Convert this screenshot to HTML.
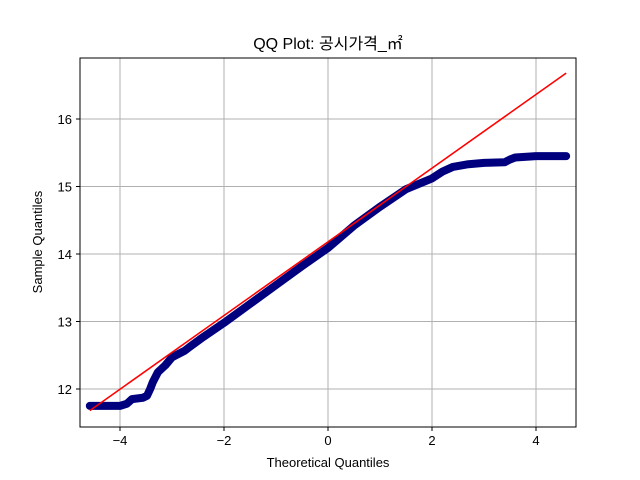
<!DOCTYPE html>
<html><head><meta charset="utf-8"><style>
body{margin:0;background:#fff}
svg{display:block;font-family:"Liberation Sans","Noto Sans CJK KR",sans-serif}
</style></head><body>
<svg id="c" width="640" height="480" viewBox="0 0 640 480"></svg>
<script>
const theoretical=[-4.58,-4.3,-4.0,-3.87,-3.77,-3.56,-3.48,-3.42,-3.37,-3.27,-3.13,-3.0,-2.75,-2.65,-2.4,-2.0,-1.5,-1.0,-0.5,0,0.5,1.0,1.5,2.0,2.2,2.4,2.7,3.0,3.4,3.5,3.6,4.0,4.3,4.58];
const sample=[11.75,11.75,11.75,11.78,11.85,11.87,11.9,12.0,12.1,12.25,12.35,12.47,12.57,12.63,12.77,12.98,13.26,13.54,13.82,14.09,14.42,14.7,14.96,15.12,15.22,15.29,15.33,15.35,15.36,15.4,15.43,15.45,15.45,15.45];
const xTicks=[-4,-2,0,2,4];
const yTicks=[12,13,14,15,16];
const lineX=[-4.58,4.58];
const lineY=[11.68,16.68];
const NS="http://www.w3.org/2000/svg";
const svg=document.getElementById('c');
const L=80,R=576,T=58,B=427;
const X=v=>328+v*52;
const Y=v=>389-(v-12)*67.5;
function mk(t,a,p){const e=document.createElementNS(NS,t);for(const k in a)e.setAttribute(k,a[k]);(p||svg).appendChild(e);return e;}
xTicks.forEach(t=>{
 const g=mk('line',{x1:X(t),x2:X(t),y1:T,y2:B,stroke:'#b0b0b0','stroke-width':1});
 
 
 mk('line',{x1:X(t),x2:X(t),y1:B,y2:B+4,stroke:'#000'});
 const tx=mk('text',{x:X(t),y:B+18,'text-anchor':'middle','font-size':13});
 tx.textContent=(t<0?'\u2212':'')+Math.abs(t);
 
 
});
yTicks.forEach(t=>{
 const g=mk('line',{x1:L,x2:R,y1:Y(t),y2:Y(t),stroke:'#b0b0b0','stroke-width':1});
 
 
 mk('line',{x1:L-4,x2:L,y1:Y(t),y2:Y(t),stroke:'#000'});
 const tx=mk('text',{x:L-8,y:Y(t)+5,'text-anchor':'end','font-size':13});
 tx.textContent=t;
 
 
});
const pts=theoretical.map((v,i)=>X(v)+','+Y(sample[i])).join(' ');
const pl=mk('polyline',{points:pts,fill:'none',stroke:'#00007f','stroke-width':8,'stroke-linejoin':'round','stroke-linecap':'round'});


theoretical.forEach((v,i)=>{
 const c=mk('circle',{cx:X(v),cy:Y(sample[i]),r:3.6,fill:'#00007f'});
 
 
});
const rl=mk('line',{x1:X(lineX[0]),y1:Y(lineY[0]),x2:X(lineX[1]),y2:Y(lineY[1]),stroke:'#f00','stroke-width':1.6});


const fr=mk('rect',{x:L,y:T,width:R-L,height:B-T,fill:'none',stroke:'#000','stroke-width':1});


const ti=mk('text',{x:328,y:49,'text-anchor':'middle','font-size':16});
ti.textContent='QQ Plot: 공시가격_㎡';


const xl=mk('text',{x:328,y:467,'text-anchor':'middle','font-size':13});
xl.textContent='Theoretical Quantiles';


const yl=mk('text',{x:0,y:0,'text-anchor':'middle','font-size':13,transform:'translate(42,242) rotate(-90)'});
yl.textContent='Sample Quantiles';


</script>
</body></html>
